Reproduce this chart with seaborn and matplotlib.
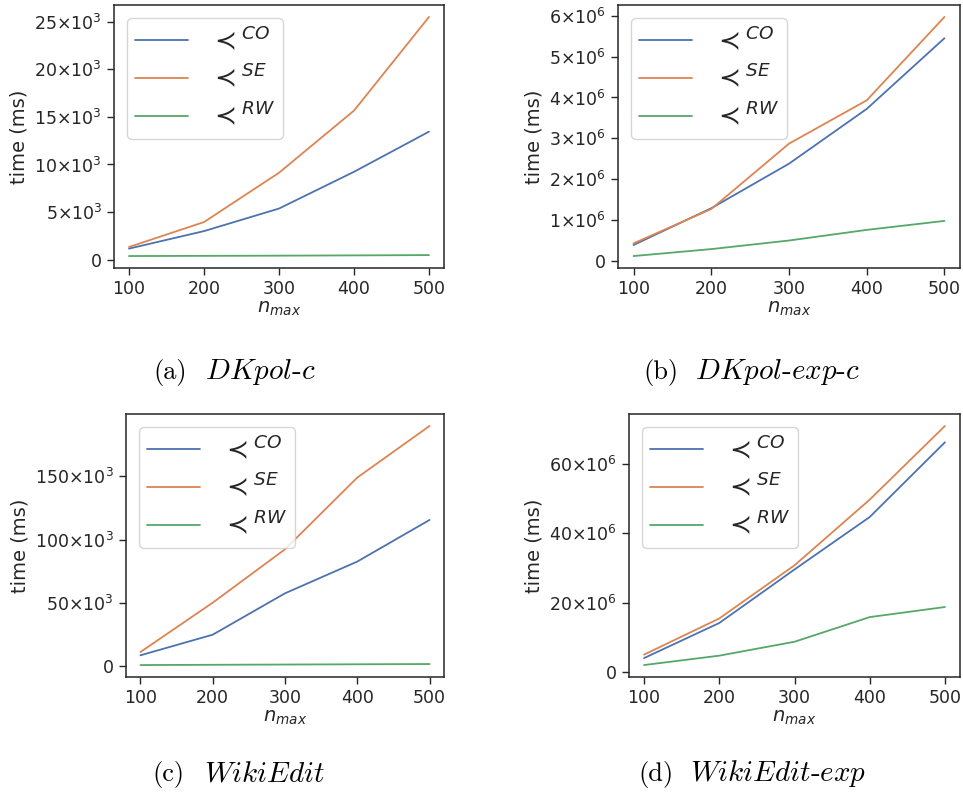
import numpy as np
import pandas as pd
import matplotlib
matplotlib.use("Agg")
import matplotlib.pyplot as plt
import seaborn as sns
from matplotlib.ticker import FuncFormatter, FixedLocator

# ---- data -----------------------------------------------------------------
n_max = [100, 200, 300, 400, 500]
orders = ["CO", "SE", "RW"]

# DKpol-c (ms)
dkpol_co = [1160, 3000, 5370, 9230, 13450]
dkpol_se = [1330, 3950, 9130, 15660, 25500]
dkpol_rw = [380, 400, 420, 450, 480]

# DKpol-exp-c (ms)
dkpol_exp_co = [0.39e6, 1.29e6, 2.38e6, 3.72e6, 5.45e6]
dkpol_exp_se = [0.43e6, 1.27e6, 2.87e6, 3.93e6, 5.97e6]
dkpol_exp_rw = [0.12e6, 0.29e6, 0.50e6, 0.76e6, 0.98e6]

# WikiEdit (ms)
wiki_co = [8500, 24800, 57500, 82600, 115500]
wiki_se = [11100, 50100, 92300, 149000, 189800]
wiki_rw = [800, 1000, 1200, 1400, 1600]

# WikiEdit-exp (ms)
wiki_exp_co = [4.1e6, 14.2e6, 29.6e6, 44.7e6, 66.2e6]
wiki_exp_se = [5.1e6, 15.5e6, 30.8e6, 49.7e6, 70.9e6]
wiki_exp_rw = [2.1e6, 4.8e6, 8.8e6, 15.9e6, 18.8e6]

panel_tags = ["(a)", "(b)", "(c)", "(d)"]
panel_names = [r"$\mathit{DKpol}\text{-}\mathit{c}$",
               r"$\mathit{DKpol}\text{-}\mathit{exp}\text{-}\mathit{c}$",
               r"$\mathit{WikiEdit}$",
               r"$\mathit{WikiEdit}\text{-}\mathit{exp}$"]

yticks = [[0, 5e3, 10e3, 15e3, 20e3, 25e3],
          [0, 1e6, 2e6, 3e6, 4e6, 5e6, 6e6],
          [0, 50e3, 100e3, 150e3],
          [0, 20e6, 40e6, 60e6]]
exponents = [3, 6, 3, 6]

series = [
    (dkpol_co, dkpol_se, dkpol_rw),
    (dkpol_exp_co, dkpol_exp_se, dkpol_exp_rw),
    (wiki_co, wiki_se, wiki_rw),
    (wiki_exp_co, wiki_exp_se, wiki_exp_rw),
]

# ---- style ----------------------------------------------------------------
sns.set_theme(style="ticks", palette="deep")
plt.rcParams["font.family"] = ["DejaVu Sans"]
plt.rcParams["mathtext.fontset"] = "dejavusans"

W, H = 963, 798
fig = plt.figure(figsize=(W / 100, H / 100), dpi=100)

# axes boxes in pixels: left, top, right, bottom
boxes = [(114, 5, 444, 268), (618, 5, 960, 268),
         (126, 414, 444, 677), (629, 414, 960, 677)]
# caption anchor: left x of tag, baseline y
caption_pos = [(153, 379), (643, 379), (152, 781), (638, 781)]


def make_formatter(exp):
    def fmt(v, pos):
        if v == 0:
            return "0"
        m = int(round(v / 10 ** exp))
        return r"$%d{\times}10^{%d}$" % (m, exp)
    return fmt


for i, (box, data) in enumerate(zip(boxes, series)):
    l, t, r, b = box
    ax = fig.add_axes([l / W, 1 - b / H, (r - l) / W, (b - t) / H])
    df = pd.DataFrame({
        "n": n_max * 3,
        "time": list(data[0]) + list(data[1]) + list(data[2]),
        "order": sum([[r"$\prec^{%s}$" % o] * len(n_max) for o in orders], []),
    })
    sns.lineplot(data=df, x="n", y="time", hue="order", ax=ax, linewidth=1.3)
    ax.set_xticks(n_max)
    ax.yaxis.set_major_locator(FixedLocator(yticks[i]))
    ax.yaxis.set_major_formatter(FuncFormatter(make_formatter(exponents[i])))
    ax.tick_params(labelsize=12.5, length=5, width=1)
    ax.set_xlabel(r"$n_{max}$", fontsize=14, labelpad=1)
    ax.set_ylabel("time (ms)", fontsize=14, labelpad=4)
    for sp in ax.spines.values():
        sp.set_linewidth(1.1)
    leg = ax.legend(loc="upper left", fontsize=19, title=None, frameon=True,
                    handlelength=2.0, handletextpad=0.8, labelspacing=0.32,
                    borderpad=0.3)
    for line in leg.get_lines():
        line.set_linewidth(1.3)

    # subfigure caption: roman tag followed by italic dataset name
    cx, cy = caption_pos[i]
    fig.text(cx / W, 1 - cy / H, panel_tags[i], ha="left", va="baseline",
             fontsize=19, family="cmr10", color="black")
    fig.text((cx + 52) / W, 1 - cy / H, panel_names[i], ha="left", va="baseline",
             fontsize=21, family="cmr10", math_fontfamily="cm", color="black")

fig.savefig("out.png", dpi=100)
